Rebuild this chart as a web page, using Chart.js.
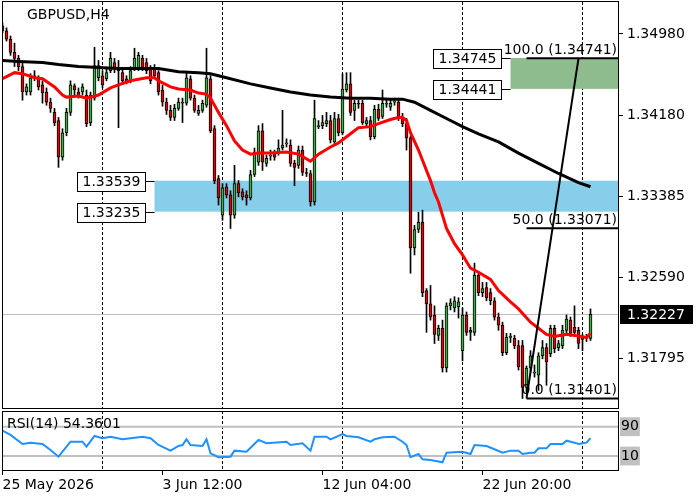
<!DOCTYPE html>
<html>
<head>
<meta charset="utf-8">
<script src="https://cdn.jsdelivr.net/npm/chart.js@4.4.0/dist/chart.umd.min.js"></script>
<style>
  html, body { margin: 0; padding: 0; background: #fff; }
  #wrap { position: relative; width: 700px; height: 500px; }
  #main { position: absolute; left: 0; top: 0; }
  #rsi { position: absolute; left: 0; top: 410px; }
</style>
</head>
<body>
<div id="wrap">
  <canvas id="main" width="700" height="410"></canvas>
  <canvas id="rsi" width="700" height="90"></canvas>
</div>
<script>
// GBPUSD H4 candles, bar index 0..147
var openP = [1.3506,1.3501,1.3493,1.3480,1.3474,1.3466,1.3441,1.3441,1.3455,1.3454,
  1.3448,1.3441,1.3431,1.3421,1.3413,1.3377,1.3401,1.3421,1.3447,1.3441,
  1.3441,1.3438,1.3411,1.3435,1.3455,1.3457,1.3454,1.3462,1.3470,1.3464,
  1.3460,1.3454,1.3452,1.3464,1.3464,1.3474,1.3470,1.3464,1.3465,1.3460,
  1.3443,1.3431,1.3423,1.3416,1.3425,1.3430,1.3430,1.3454,1.3435,1.3420,
  1.3423,1.3428,1.3454,1.3405,1.3356,1.3320,1.3348,1.3340,1.3320,1.3351,
  1.3343,1.3340,1.3337,1.3360,1.3372,1.3403,1.3371,1.3378,1.3381,1.3382,
  1.3386,1.3390,1.3389,1.3371,1.3369,1.3384,1.3362,1.3361,1.3333,1.3407,
  1.3408,1.3410,1.3413,1.3392,1.3415,1.3401,1.3443,1.3449,1.3423,1.3430,
  1.3430,1.3410,1.3413,1.3397,1.3424,1.3417,1.3429,1.3426,1.3431,1.3431,
  1.3415,1.3410,1.3396,1.3288,1.3306,1.3313,1.3246,1.3233,1.3222,1.3202,
  1.3209,1.3170,1.3231,1.3229,1.3230,1.3187,1.3222,1.3207,1.3205,1.3261,
  1.3244,1.3249,1.3244,1.3236,1.3220,1.3212,1.3185,1.3200,1.3199,1.3192,
  1.3192,1.3151,1.3170,1.3165,1.3163,1.3182,1.3190,1.3184,1.3209,1.3190,
  1.3192,1.3207,1.3217,1.3210,1.3207,1.3200,1.3199,1.3199];
var highP = [1.3509,1.3504,1.3496,1.3489,1.3477,1.3470,1.3449,1.3459,1.3462,1.3457,
  1.3452,1.3445,1.3435,1.3425,1.3416,1.3405,1.3425,1.3452,1.3449,1.3445,
  1.3449,1.3443,1.3441,1.3485,1.3472,1.3462,1.3464,1.3480,1.3474,1.3472,
  1.3464,1.3457,1.3466,1.3484,1.3480,1.3477,1.3474,1.3467,1.3468,1.3462,
  1.3448,1.3435,1.3428,1.3429,1.3435,1.3435,1.3460,1.3457,1.3438,1.3428,
  1.3433,1.3484,1.3457,1.3408,1.3359,1.3351,1.3351,1.3344,1.3369,1.3354,
  1.3346,1.3344,1.3364,1.3386,1.3408,1.3410,1.3379,1.3384,1.3384,1.3394,
  1.3423,1.3395,1.3394,1.3374,1.3388,1.3388,1.3366,1.3364,1.3433,1.3413,
  1.3418,1.3421,1.3418,1.3421,1.3419,1.3459,1.3460,1.3460,1.3433,1.3433,
  1.3433,1.3416,1.3417,1.3428,1.3429,1.3443,1.3433,1.3433,1.3435,1.3435,
  1.3420,1.3415,1.3398,1.3310,1.3323,1.3325,1.3248,1.3251,1.3231,1.3212,
  1.3217,1.3234,1.3238,1.3240,1.3239,1.3229,1.3225,1.3210,1.3273,1.3264,
  1.3254,1.3254,1.3248,1.3239,1.3224,1.3215,1.3204,1.3204,1.3202,1.3197,
  1.3197,1.3172,1.3187,1.3173,1.3185,1.3197,1.3194,1.3212,1.3212,1.3197,
  1.3212,1.3222,1.3220,1.3231,1.3210,1.3203,1.3203,1.3228];
var lowP = [1.3499,1.3491,1.3477,1.3466,1.3462,1.3433,1.3438,1.3438,1.3452,1.3443,
  1.3430,1.3428,1.3421,1.3408,1.3367,1.3374,1.3398,1.3418,1.3438,1.3435,
  1.3438,1.3407,1.3408,1.3433,1.3452,1.3445,1.3452,1.3460,1.3460,1.3406,
  1.3450,1.3449,1.3450,1.3462,1.3462,1.3462,1.3459,1.3449,1.3454,1.3438,
  1.3427,1.3419,1.3413,1.3413,1.3423,1.3411,1.3428,1.3433,1.3421,1.3418,
  1.3421,1.3426,1.3401,1.3351,1.3330,1.3315,1.3337,1.3307,1.3317,1.3338,
  1.3335,1.3330,1.3335,1.3358,1.3369,1.3364,1.3368,1.3374,1.3374,1.3379,
  1.3384,1.3387,1.3368,1.3349,1.3366,1.3359,1.3358,1.3329,1.3330,1.3405,
  1.3405,1.3407,1.3391,1.3389,1.3398,1.3399,1.3441,1.3418,1.3413,1.3425,
  1.3409,1.3407,1.3394,1.3395,1.3413,1.3415,1.3426,1.3423,1.3428,1.3413,
  1.3407,1.3384,1.3263,1.3281,1.3303,1.3240,1.3205,1.3217,1.3194,1.3197,
  1.3166,1.3166,1.3227,1.3225,1.3219,1.3177,1.3202,1.3197,1.3202,1.3241,
  1.3240,1.3236,1.3232,1.3217,1.3207,1.3182,1.3183,1.3195,1.3189,1.3168,
  1.3140,1.3146,1.3166,1.3161,1.3148,1.3179,1.3153,1.3181,1.3185,1.3187,
  1.3189,1.3204,1.3201,1.3202,1.3189,1.3187,1.3196,1.3197];
var closeP = [1.3501,1.3493,1.3480,1.3474,1.3466,1.3441,1.3446,1.3455,1.3457,1.3446,
  1.3440,1.3431,1.3425,1.3411,1.3377,1.3401,1.3421,1.3448,1.3443,1.3438,
  1.3446,1.3410,1.3438,1.3467,1.3467,1.3448,1.3460,1.3474,1.3464,1.3462,
  1.3452,1.3451,1.3462,1.3474,1.3477,1.3465,1.3462,1.3452,1.3457,1.3441,
  1.3431,1.3423,1.3416,1.3425,1.3431,1.3431,1.3455,1.3435,1.3423,1.3423,
  1.3430,1.3455,1.3403,1.3354,1.3337,1.3347,1.3340,1.3320,1.3351,1.3342,
  1.3338,1.3337,1.3360,1.3382,1.3403,1.3372,1.3376,1.3379,1.3377,1.3386,
  1.3389,1.3391,1.3371,1.3367,1.3384,1.3362,1.3361,1.3333,1.3415,1.3408,
  1.3411,1.3413,1.3394,1.3415,1.3401,1.3444,1.3449,1.3421,1.3430,1.3429,
  1.3411,1.3413,1.3397,1.3424,1.3415,1.3430,1.3429,1.3430,1.3431,1.3416,
  1.3410,1.3396,1.3288,1.3306,1.3313,1.3244,1.3233,1.3220,1.3203,1.3209,
  1.3170,1.3231,1.3234,1.3236,1.3235,1.3222,1.3205,1.3205,1.3261,1.3244,
  1.3248,1.3239,1.3236,1.3220,1.3212,1.3185,1.3200,1.3200,1.3192,1.3171,
  1.3151,1.3170,1.3182,1.3165,1.3182,1.3190,1.3176,1.3209,1.3189,1.3194,
  1.3207,1.3218,1.3204,1.3205,1.3194,1.3198,1.3200,1.32227];

// moving averages (bar index, price)
var redMaIdx = [0,3,5,8,10,13,15,16,19,21,24,27,29,32,36,38,39,42,44,47,49,51,52,54,56,58,60,62,64,67,71,74,77,79,82,84,87,89,92,94,97,99,100,101,102,104,106,107,108,109,111,113,115,117,119,122,124,127,129,132,134,136,138,141,143,146,147];
var redMaVal = [1.3454,1.3460,1.3459,1.3455,1.3454,1.3446,1.3438,1.3436,1.3437,1.3435,1.3438,1.3445,1.3448,1.3452,1.3455,1.3455,1.3452,1.3446,1.3444,1.3443,1.3440,1.3439,1.3435,1.3421,1.3408,1.3393,1.3384,1.3380,1.3381,1.3381,1.3382,1.3380,1.3373,1.3380,1.3387,1.3391,1.3400,1.3406,1.3407,1.3410,1.3414,1.3416,1.3416,1.3413,1.3401,1.3384,1.3364,1.3354,1.3342,1.3333,1.3307,1.3292,1.3281,1.3268,1.3264,1.3257,1.3246,1.3235,1.3228,1.3215,1.3209,1.3203,1.3201,1.3203,1.3202,1.3200,1.3204];
var blackMaIdx = [0,4,10,14,19,24,29,34,39,44,49,52,56,62,67,72,77,82,87,92,97,100,103,107,111,115,119,124,129,134,139,144,147];
var blackMaVal = [1.3472,1.3471,1.3470,1.3468,1.3466,1.3465,1.3464,1.3464,1.3464,1.3461,1.3460,1.3459,1.3455,1.3449,1.3445,1.3441,1.3438,1.3436,1.3435,1.3435,1.3434,1.3434,1.3431,1.3423,1.3415,1.3407,1.3400,1.3392,1.3381,1.3371,1.3361,1.3352,1.3348];

// RSI(14)
var rsiIdx = [0,2,5,7,10,12,14,17,20,21,23,25,27,30,32,35,37,39,42,44,45,46,47,50,51,52,54,57,58,61,64,66,71,72,75,77,78,81,82,85,86,89,92,93,95,98,100,101,102,104,105,107,110,111,115,117,118,121,123,125,127,129,130,132,133,134,136,137,140,141,143,144,146,147];
var rsiVal = [64.5,58.7,46.4,48.2,46.4,38.2,29.1,49.5,49.5,42.7,57.3,54.2,56.4,52.8,54.2,56.4,54.2,45.0,37.3,43.7,45.0,52.8,45.0,43.7,52.8,33.7,28.3,29.1,37.3,35.9,51.9,47.4,49.5,45.0,47.4,37.3,56.4,56.4,52.8,60.0,57.3,55.5,49.5,52.8,55.5,56.4,49.5,45.0,28.3,32.8,25.5,24.6,21.4,34.5,35.9,32.8,45.0,43.7,39.2,34.5,37.3,37.3,32.8,34.5,34.5,40.5,40.5,46.4,46.4,50.9,48.2,46.4,48.2,54.3601];
var rsiLevels = [70, 30];
var rsiLevelText = ['90', '10'];

// axes
var priceTicks = [1.34980, 1.34180, 1.33385, 1.32590, 1.31795];
var lastPrice = 1.32227;
var labelBars = [0, 40, 80, 120];
var xTickLabels = ['25 May 2026', '3 Jun 12:00', '12 Jun 04:00', '22 Jun 20:00'];
var gridBars = [25, 55, 85, 115, 145];

// drawn objects
var zoneFrom = [38, 127];
var zoneHi = [1.33539, 1.34745];
var zoneLo = [1.33235, 1.34441];
var zoneColor = ['#87ceeb', '#8fbc8f'];
var fibFrom = 131, fibTo = 144;
var fibPct = [0, 50, 100];
var fibPrice = [1.31401, 1.33071, 1.34741];

var FONT = 'DejaVu Sans';
var xMin = -0.125, xMax = 153.875;

var bodyData = openP.map((o, i) => ({ x: i, y: [o, closeP[i]] }));
var wickData = highP.map((h, i) => ({ x: i, y: [lowP[i], h] }));
var bodyColors = openP.map((o, i) => closeP[i] >= o ? '#3cb043' : '#e60000');

function noPad(a) { a.paddingTop = 0; a.paddingBottom = 0; a.paddingLeft = 0; a.paddingRight = 0; }

var mainOverlay = {
  id: 'mainOverlay',
  beforeDatasetsDraw(chart) {
    var ctx = chart.ctx, a = chart.chartArea, x = chart.scales.x, y = chart.scales.y;
    ctx.save();
    // zones
    zoneFrom.forEach(function (f, k) {
      var x0 = x.getPixelForValue(f);
      var yh = y.getPixelForValue(zoneHi[k]), yl = y.getPixelForValue(zoneLo[k]);
      ctx.fillStyle = zoneColor[k];
      ctx.fillRect(x0, yh, a.right - x0, yl - yh);
    });
    // current price line
    var yp = Math.round(y.getPixelForValue(lastPrice)) + 0.5;
    ctx.strokeStyle = '#c0c0c0';
    ctx.lineWidth = 1;
    ctx.beginPath(); ctx.moveTo(a.left, yp); ctx.lineTo(a.right, yp); ctx.stroke();
    ctx.restore();
  },
  afterDatasetsDraw(chart) {
    var ctx = chart.ctx, a = chart.chartArea, x = chart.scales.x, y = chart.scales.y;
    ctx.save();
    ctx.font = '14px "' + FONT + '"';
    // zone price boxes
    zoneFrom.forEach(function (f, k) {
      var x0 = x.getPixelForValue(f);
      [zoneHi[k], zoneLo[k]].forEach(function (p) {
        var yy = Math.round(y.getPixelForValue(p)) + 0.5;
        var txt = p.toFixed(5);
        var w = Math.round(ctx.measureText(txt).width) + 10;
        var bx = Math.round(x0) - 10 - w;
        ctx.fillStyle = '#fff';
        ctx.fillRect(bx, yy - 9.5, w, 19);
        ctx.strokeStyle = '#000'; ctx.lineWidth = 1;
        ctx.strokeRect(bx + 0.5, yy - 9, w, 19);
        ctx.beginPath(); ctx.moveTo(bx + w, yy); ctx.lineTo(x0, yy); ctx.stroke();
        ctx.fillStyle = '#000';
        ctx.textAlign = 'left'; ctx.textBaseline = 'middle';
        ctx.fillText(txt, bx + 5.5, yy + 1);
      });
    });
    // fibonacci levels
    var fx = x.getPixelForValue(fibFrom);
    ctx.strokeStyle = '#000'; ctx.lineWidth = 2;
    fibPrice.forEach(function (p, k) {
      var yy = y.getPixelForValue(p);
      ctx.beginPath(); ctx.moveTo(fx, yy); ctx.lineTo(a.right, yy); ctx.stroke();
      ctx.fillStyle = '#000';
      ctx.textAlign = 'right'; ctx.textBaseline = 'bottom';
      ctx.fillText(fibPct[k].toFixed(1) + ' (' + p.toFixed(5) + ')', a.right - 1, yy - 1);
    });
    // trend line low -> high
    ctx.beginPath();
    ctx.moveTo(fx, y.getPixelForValue(fibPrice[0]));
    ctx.lineTo(x.getPixelForValue(fibTo), y.getPixelForValue(fibPrice[2]));
    ctx.stroke();
    // symbol title
    ctx.fillStyle = '#000';
    ctx.textAlign = 'left'; ctx.textBaseline = 'top';
    ctx.fillText('GBPUSD,H4', 27, 8);
    ctx.restore();
  },
  afterDraw(chart) {
    var ctx = chart.ctx, a = chart.chartArea, y = chart.scales.y;
    ctx.save();
    ctx.strokeStyle = '#000'; ctx.lineWidth = 1;
    ctx.strokeRect(a.left + 0.5, a.top - 0.5, a.right - a.left, a.bottom - a.top + 1);
    var yp = Math.round(y.getPixelForValue(lastPrice));
    ctx.fillStyle = '#000';
    ctx.fillRect(a.right + 2, yp - 9, 73, 19);
    ctx.fillStyle = '#fff';
    ctx.font = '14px "' + FONT + '"';
    ctx.textAlign = 'left'; ctx.textBaseline = 'middle';
    ctx.fillText(lastPrice.toFixed(5), a.right + 9, yp + 1);
    ctx.restore();
  }
};

new Chart(document.getElementById('main'), {
  type: 'bar',
  data: {
    datasets: [
      { type: 'line', data: redMaIdx.map((v, i) => ({ x: v, y: redMaVal[i] })), borderColor: '#ff0000', borderWidth: 3, pointRadius: 0, order: 0 },
      { type: 'line', data: blackMaIdx.map((v, i) => ({ x: v, y: blackMaVal[i] })), borderColor: '#000000', borderWidth: 3, pointRadius: 0, order: 0 },
      { data: bodyData, backgroundColor: bodyColors, borderColor: '#000', borderWidth: 1, borderSkipped: false, barThickness: 3, minBarLength: 1, grouped: false, order: 1 },
      { data: wickData, backgroundColor: '#000', barThickness: 1, grouped: false, order: 2 }
    ]
  },
  options: {
    responsive: false,
    animation: false,
    events: [],
    layout: { padding: { left: 2, top: 2, bottom: 2, right: 0 } },
    plugins: { legend: { display: false }, tooltip: { enabled: false } },
    scales: {
      x: {
        type: 'linear', min: xMin, max: xMax, offset: false,
        ticks: { display: false },
        grid: { color: '#000', drawTicks: false, lineWidth: 1, offset: false },
        border: { display: false, dash: [3, 2] },
        afterBuildTicks: a => { a.ticks = gridBars.map(v => ({ value: v })); },
        afterFit: a => { a.height = 0; noPad(a); }
      },
      y: {
        position: 'right', min: 1.31307, max: 1.35294,
        afterBuildTicks: a => { a.ticks = priceTicks.map(v => ({ value: v })); },
        afterFit: a => { a.width = 82; noPad(a); },
        ticks: { font: { family: FONT, size: 14 }, color: '#000', padding: 4, callback: v => v.toFixed(5) },
        grid: { drawOnChartArea: false, color: '#000', tickLength: 5 },
        border: { color: '#000' }
      }
    }
  },
  plugins: [mainOverlay]
});

var rsiOverlay = {
  id: 'rsiOverlay',
  beforeDatasetsDraw(chart) {
    var ctx = chart.ctx, a = chart.chartArea, y = chart.scales.y;
    ctx.save();
    ctx.strokeStyle = '#c0c0c0'; ctx.lineWidth = 2;
    rsiLevels.forEach(function (lv) {
      var yy = y.getPixelForValue(lv);
      ctx.beginPath(); ctx.moveTo(a.left, yy); ctx.lineTo(a.right, yy); ctx.stroke();
    });
    ctx.restore();
  },
  afterDraw(chart) {
    var ctx = chart.ctx, a = chart.chartArea;
    ctx.save();
    ctx.strokeStyle = '#000'; ctx.lineWidth = 1;
    ctx.strokeRect(a.left + 0.5, a.top + 0.5, a.right - a.left, a.bottom - a.top);
    ctx.fillStyle = '#000';
    ctx.font = '14px "' + FONT + '"';
    ctx.textAlign = 'left'; ctx.textBaseline = 'top';
    ctx.fillText('RSI(14) ' + rsiVal[rsiVal.length - 1].toFixed(4), 7, a.top + 6);
    ctx.restore();
  }
};

new Chart(document.getElementById('rsi'), {
  type: 'line',
  data: {
    datasets: [
      { data: rsiIdx.map((v, i) => ({ x: v, y: rsiVal[i] })), borderColor: '#1e90ff', borderWidth: 2, pointRadius: 0, xAxisID: 'x', yAxisID: 'y' }
    ]
  },
  options: {
    responsive: false,
    animation: false,
    events: [],
    layout: { padding: { left: 2, top: 1, bottom: 0, right: 0 } },
    plugins: { legend: { display: false }, tooltip: { enabled: false } },
    scales: {
      x: {
        type: 'linear', position: 'bottom', min: xMin, max: xMax, offset: false,
        afterBuildTicks: a => { a.ticks = labelBars.map(v => ({ value: v })); },
        afterFit: a => { a.height = 30; noPad(a); },
        ticks: { font: { family: FONT, size: 14 }, color: '#000', align: 'start', maxRotation: 0, autoSkip: false, padding: 2,
                 callback: (v, i) => xTickLabels[i] },
        grid: { drawOnChartArea: false, color: '#000', tickLength: 5, offset: false },
        border: { color: '#000' }
      },
      x2: {
        type: 'linear', position: 'top', min: xMin, max: xMax, offset: false,
        ticks: { display: false },
        grid: { color: '#000', drawTicks: false, offset: false },
        border: { display: false, dash: [3, 2] },
        afterBuildTicks: a => { a.ticks = gridBars.map(v => ({ value: v })); },
        afterFit: a => { a.height = 0; noPad(a); }
      },
      y: {
        position: 'right', min: 10.9, max: 91.4,
        afterBuildTicks: a => { a.ticks = rsiLevels.map(v => ({ value: v })); },
        afterFit: a => { a.width = 82; noPad(a); },
        ticks: { font: { family: FONT, size: 14 }, color: '#000', padding: 3,
                 showLabelBackdrop: true, backdropColor: '#c0c0c0', backdropPadding: 1,
                 callback: (v, i) => rsiLevelText[i] },
        grid: { drawOnChartArea: false, drawTicks: false },
        border: { color: '#000' }
      }
    }
  },
  plugins: [rsiOverlay]
});
</script>
</body>
</html>
